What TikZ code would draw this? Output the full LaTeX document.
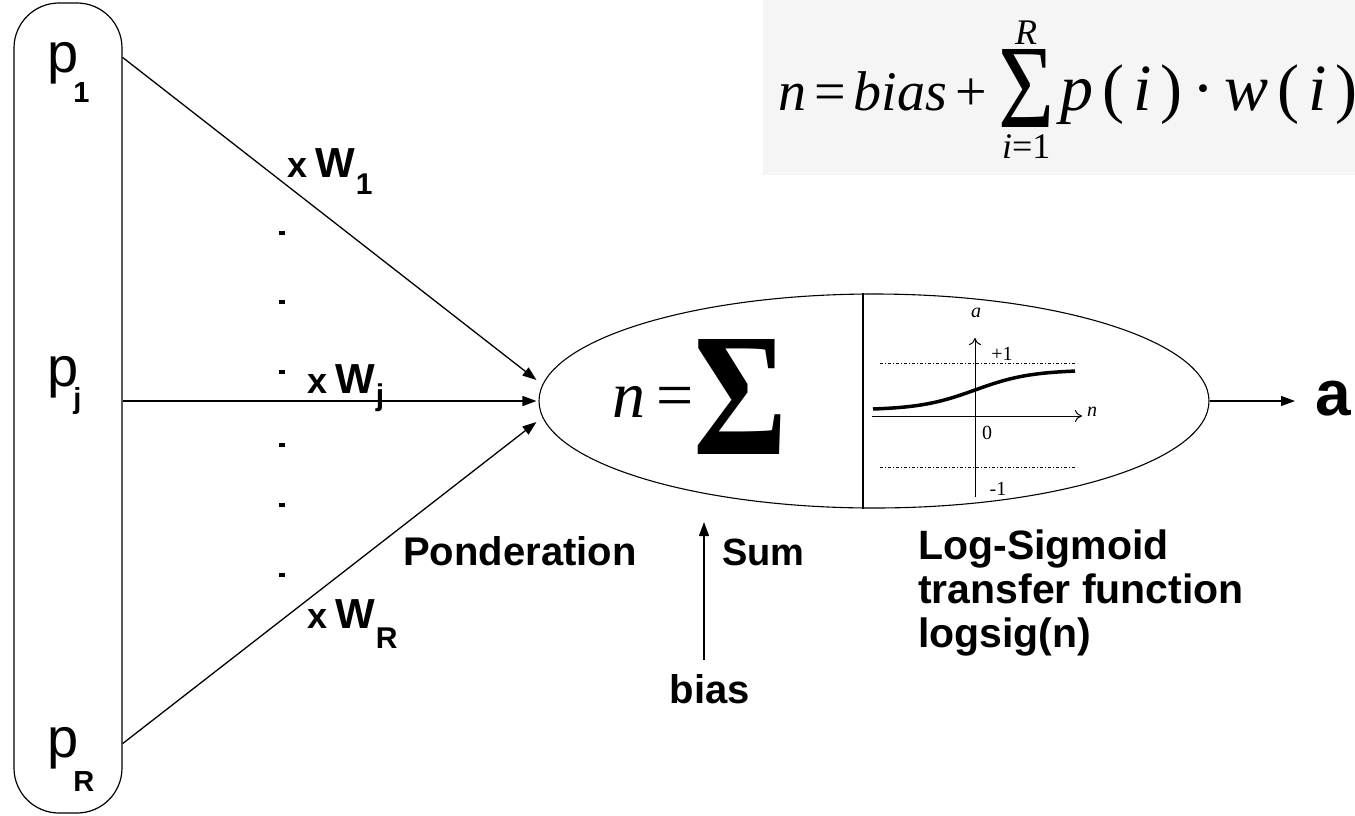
\documentclass[tikz,border=0pt]{standalone}
\usepackage{fontspec}
\setmainfont{Liberation Sans}
\newfontfamily\tms{Liberation Serif}
\usetikzlibrary{shapes.geometric,arrows.meta,positioning,calc}

\newcommand{\fs}[1]{\fontsize{#1}{#1}\selectfont}
\newcommand{\plab}[2]{p\kern-5pt\raisebox{-#2}{\fs{29}\bfseries #1}}
\newcommand{\wlab}[2]{{\fs{36}x}\kern8pt{\fs{42}W}\kern1pt\raisebox{-#2}{\fs{30}#1}}

\begin{document}
\begin{tikzpicture}[
    x=1pt, y=-1pt,
    inputbox/.style={rectangle, draw=black, line width=1.2pt, rounded corners=45pt, minimum width=108pt, minimum height=810pt, inner sep=0pt},
    neuronbody/.style={ellipse, draw=black, line width=1.1pt, minimum width=670pt, minimum height=214pt, inner sep=0pt},
    arrow/.style={-{Triangle[length=14pt,width=10pt]}, line width=1.3pt},
    axis/.style={-{To[length=7pt,width=12pt]}, line width=1pt},
    dotline/.style={line width=1pt, dash pattern=on 3pt off 2pt on 1pt off 2pt},
    plotlab/.style={inner sep=0pt, font=\tms\fs{20}},
    label/.style={anchor=base west, inner sep=0pt, font=\bfseries\fs{40}},
    formulabg/.style={fill=black!4}
]
\useasboundingbox (0,0) rectangle (1355,815);

% formula box
\fill[formulabg] (763,0) rectangle (1355,175);
\node[anchor=base west, inner sep=0pt, font=\tms\fs{56}] (frmleft) at (778,110) {\itshape n\kern8pt\upshape=\kern8pt\itshape bias\kern8pt\upshape+};
\node[anchor=south west, inner sep=0pt] (frmsum) at (998,128) {\resizebox{56pt}{78pt}{\tms Σ}};
\node[above=5pt of frmsum, inner sep=0pt, font=\tms\itshape\fs{36}] (frmR) {R};
\node[below=6pt of frmsum, inner sep=0pt, font=\tms\fs{36}] (frmi) {\itshape i\upshape=1};
\node[anchor=base west, inner sep=0pt, font=\tms\fs{66}] (frmright) at (1060,110) {\itshape p\kern9pt\upshape(\kern9pt\itshape i\kern9pt\upshape)\kern10pt·\kern10pt\itshape w\kern9pt\upshape(\kern9pt\itshape i\kern9pt\upshape)};

% inputs
\node[inputbox] (inputs) at (68,408) {};
\node[anchor=base west, inner sep=0pt, font=\fs{56}] (p1) at (47,72) {\plab{1}{30pt}};
\node[anchor=base west, inner sep=0pt, font=\fs{56}] (pj) at (47,386) {\plab{j}{22pt}};
\node[anchor=base west, inner sep=0pt, font=\fs{56}] (pR) at (47,757) {\plab{R}{34pt}};

\foreach \y in {231,300,370,443,503,573}
    \fill (279,\y) rectangle +(6,4);

% neuron
\node[neuronbody] (neuron) at (874,401) {};
\draw[line width=1.1pt] ($(neuron.north)+(-11,0)$) -- ($(neuron.south)+(-11,0)$);
\node[anchor=base west, inner sep=0pt, font=\tms\itshape\fs{66}] (neq) at (612,417) {n\upshape\,=};
\node[anchor=south west, inner sep=0pt] (bigsum) at (693,455) {\resizebox{94pt}{115pt}{\tms\bfseries Σ}};

% transfer plot
\draw[dotline] (880,363) -- (1077,363);
\draw[dotline] (880,467) -- (1077,467);
\draw[axis] (975,497) -- (975,338);
\draw[axis] (872,416) -- (1082,416);
\draw[line width=3.5pt] plot[domain=873:1075, samples=60] (\x,{410-40/(1+exp(-(\x-975)/28))});
\node[plotlab] (axa) at (976,313) {\itshape a};
\node[plotlab] (axn) at (1092,412) {\itshape n};
\node[plotlab] (plus1) at (1002,354) {+1};
\node[plotlab] (zero) at (987,433) {0};
\node[plotlab] (minus1) at (998,489) {-1};

% connections
\coordinate (in1) at ($(inputs.north east)+(0,55)$);
\coordinate (inj) at ($(inputs.east)+(0,-7)$);
\coordinate (inR) at ($(inputs.south east)+(0,-70)$);
\coordinate (tip1) at ($(neuron.west)+(-2,-21)$);
\coordinate (tipj) at ($(neuron.west)+(-2,0)$);
\coordinate (tipR) at ($(neuron.west)+(-2,21)$);
\draw[arrow] (in1) -- (tip1);
\draw[arrow] (inj) -- (tipj);
\draw[arrow] (inR) -- (tipR);

\node[label] (w1) at (287,177) {\wlab{1}{17pt}};
\node[label] (wj) at (307,393) {\wlab{j}{12pt}};
\node[label] (wR) at (307,628) {\wlab{R}{20pt}};

% labels
\node[label] (ponder) at (403,565) {Ponderation};
\node[label, font=\bfseries\fs{38}] (sumlab) at (722,565) {Sum};
\node[anchor=base, inner sep=0pt, font=\bfseries\fs{40}] (bias) at (710,703) {bias};
\coordinate (biastip) at (704,522);
\coordinate (biasfoot) at ([yshift=14pt]bias.north);
\draw[arrow] (biasfoot -| biastip) -- (biastip);
\node[anchor=north west, inner sep=0pt, align=left, font=\bfseries\fontsize{41}{44}\selectfont] (transfer) at (918,530) {Log-Sigmoid\\transfer function\\logsig(n)};

% output
\node[anchor=base west, inner sep=0pt, font=\bfseries\fs{64}] (out) at (1315,415) {a};
\draw[arrow, shorten >=20pt] (neuron.east) -- (neuron.east -| out.west);
\end{tikzpicture}
\end{document}
